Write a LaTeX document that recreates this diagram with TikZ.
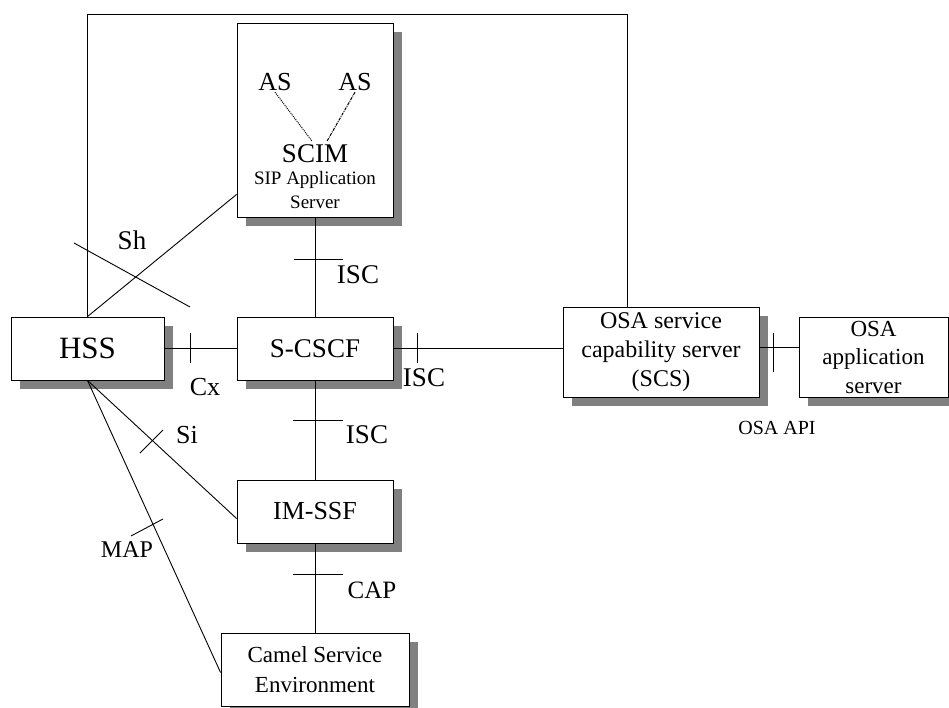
\documentclass[tikz,border=0pt]{standalone}
\usepackage{fontspec}
\setmainfont{Liberation Serif}
\usetikzlibrary{calc,shadows}
\def\txtsize#1#2{\fontsize{#1}{#2}\selectfont}
\tikzset{
	netbox/.style={draw, fill=white, inner sep=2pt, align=center, drop shadow={shadow xshift=9pt, shadow yshift=-9pt, fill=gray, opacity=1}},
	lbl/.style={font=\txtsize{26}{26}, inner sep=1pt},
}

\begin{document}
\begin{tikzpicture}[x=1pt, y=-1pt, line width=0.9pt]
	\useasboundingbox (0,0) rectangle (949,708);

	\node[netbox, minimum width=156pt, minimum height=194pt] (scim) at (315,120) {};
	\node[netbox, minimum width=153pt, minimum height=63pt, font=\txtsize{31}{31}] (hss) at (87.5,348.5) {HSS};
	\node[netbox, minimum width=156pt, minimum height=63pt, font=\txtsize{27}{27}] (cscf) at (315,348.5) {S-CSCF};
	\node[netbox, minimum width=156pt, minimum height=63pt, font=\txtsize{26}{26}] (imssf) at (315,511.5) {IM-SSF};
	\node[netbox, minimum width=188pt, minimum height=73pt, font=\txtsize{23}{30}] (camel) at (315,669.5) {Camel Service\\Environment};
	\node[netbox, minimum width=196pt, minimum height=90pt, font=\txtsize{24}{29}] (scs) at (661,352) {OSA service\\capability server\\(SCS)};
	\node[netbox, minimum width=149pt, minimum height=80pt, font=\txtsize{23}{28.5}] (app) at (873.5,357) {OSA\\application\\server};

	\node[lbl] (as1) at (275,82) {AS};
	\node[lbl] (as2) at (355,82) {AS};
	\node[font=\txtsize{27}{27}] (scimtxt) at (315,154) {SCIM};
	\node[font=\txtsize{19}{24}, align=center] (sipas) at (315,190) {SIP Application\\Server};
	\draw[densely dotted, line width=1pt] (as1.south) -- ([xshift=-3pt]scimtxt.north);
	\draw[densely dashdotted, line width=1pt] (as2.south) -- ([xshift=12pt]scimtxt.north);

	\coordinate (loop) at (627,14);
	\draw (hss.north) |- (loop) -- (loop |- scs.north);
	\draw (hss.north) -- ($(scim.south west)+(0,-23)$);
	\draw (hss.east) -- (cscf.west);
	\draw (cscf.east) -- (cscf.east -| scs.west);
	\draw ([yshift=5pt]scs.east) -- ([yshift=5pt]scs.east -| app.west);
	\draw (scim.south) -- (cscf.north);
	\draw (cscf.south) -- (imssf.north);
	\draw (imssf.south) -- (camel.north);
	\draw (hss.south) -- ([yshift=-7pt]imssf.west);
	\draw (hss.south) -- ([yshift=-3pt]camel.west);

	\draw (74,243) -- (190,307);
	\draw (190,333) -- (190,363);
	\draw (417,333) -- (417,363);
	\draw (773,333) -- (773,372);
	\draw (294,259) -- (343,259);
	\draw (293,420) -- (343,420);
	\draw (293,574) -- (343,574);
	\draw (140,453) -- (163,430);
	\draw (131,536) -- (163,519);

	\node[lbl, font=\txtsize{27}{27}] (sh) at (132,240) {Sh};
	\node[lbl] (cx) at (205,387) {Cx};
	\node[lbl, font=\txtsize{27}{27}] (isctop) at (358,275) {ISC};
	\node[lbl, font=\txtsize{27}{27}] (iscright) at (424,378) {ISC};
	\node[lbl, font=\txtsize{27}{27}] (iscmid) at (367,435) {ISC};
	\node[lbl] (si) at (187,435) {Si};
	\node[lbl, font=\txtsize{25}{25}] (cap) at (372,590) {CAP};
	\node[lbl, font=\txtsize{24}{24}] (map) at (127,550) {MAP};
	\node[lbl, font=\txtsize{20}{20}] (osaapi) at (777,428) {OSA API};
\end{tikzpicture}
\end{document}
